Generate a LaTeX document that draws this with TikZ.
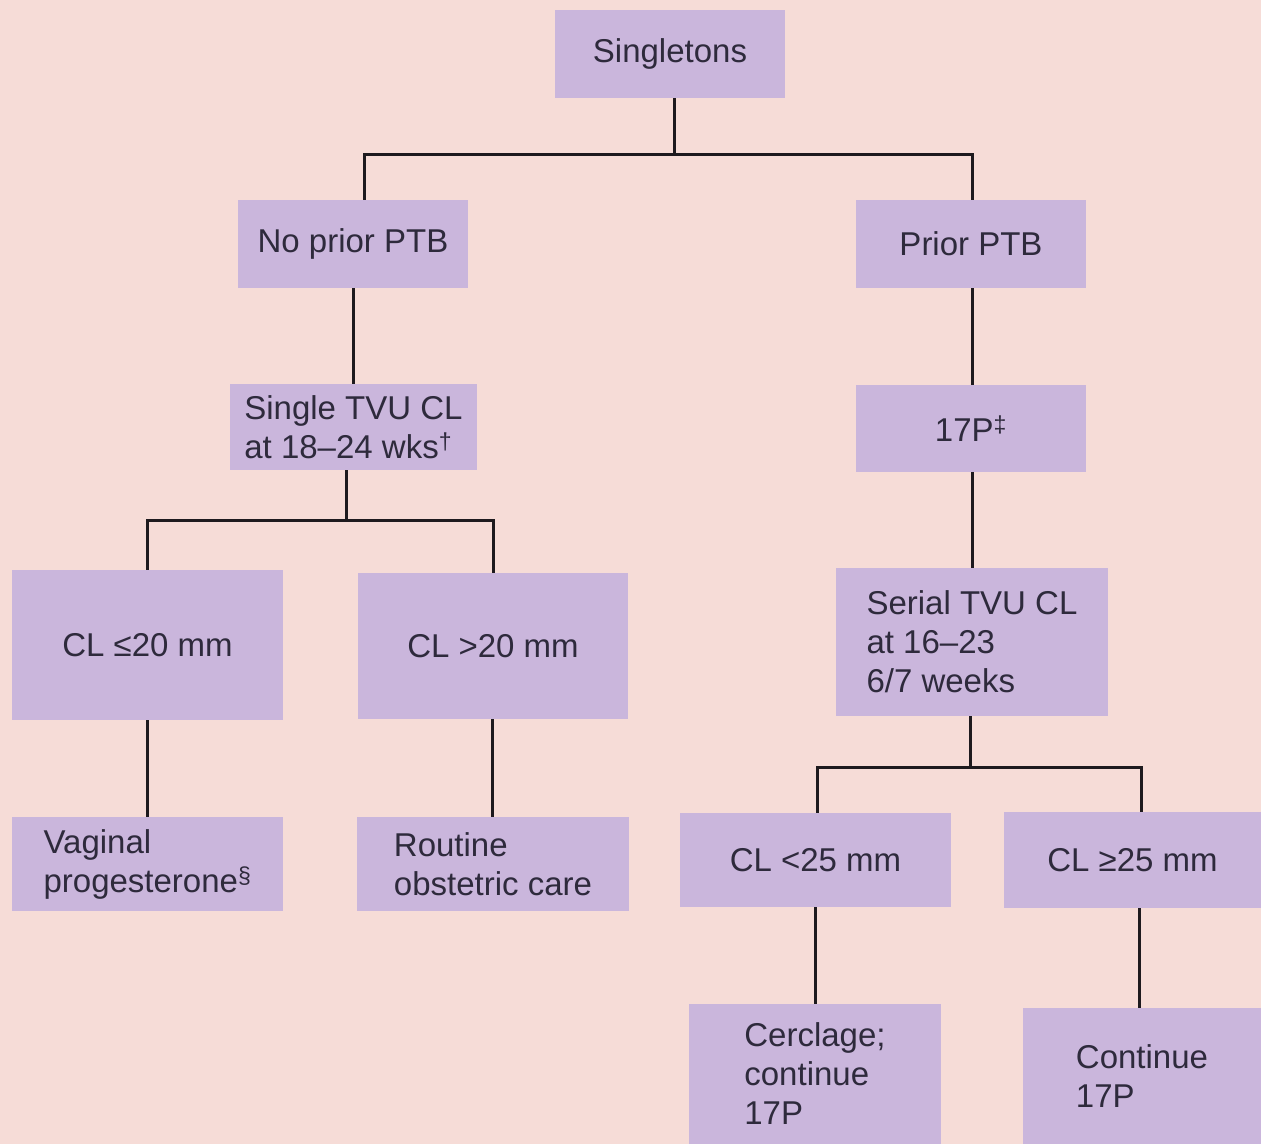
\documentclass[tikz,border=0pt]{standalone}
\usepackage{fontspec}
\setmainfont{Liberation Sans}
\definecolor{bg}{HTML}{F6DCD7}
\definecolor{boxc}{HTML}{CAB6DC}
\definecolor{ink}{HTML}{2E2A3C}
\definecolor{wire}{HTML}{1E1A1E}
\begin{document}
\begin{tikzpicture}[x=1pt,y=-1pt,
  box/.style={fill=boxc, draw=none, inner sep=0pt, align=left, text=ink,
    font=\fontsize{33}{39}\selectfont},
  wire/.style={draw=wire, line width=3pt}]
\useasboundingbox (0,0) rectangle (1261,1144);
\fill[bg] (0,0) rectangle (1261,1144);
% boxes
\node[box, minimum width=230pt, minimum height=88pt] (s) at (670,54) {Singletons};
\node[box, minimum width=230pt, minimum height=88pt] (np) at (353,244) {No prior PTB};
\node[box, minimum width=230pt, minimum height=88pt] (pp) at (971,244) {Prior PTB};
\node[box, minimum width=247pt, minimum height=86pt] (stvu) at (353.5,427) {Single TVU CL\\at 18–24 wks\textsuperscript{†}};
\node[box, minimum width=230pt, minimum height=87pt] (p17) at (971,428.5) {17P\textsuperscript{‡}};
\node[box, minimum width=271pt, minimum height=150pt] (le20) at (147.5,645) {CL ≤20 mm};
\node[box, minimum width=270pt, minimum height=146pt] (gt20) at (493,646) {CL >20 mm};
\node[box, minimum width=272pt, minimum height=148pt] (ser) at (972,642) {Serial TVU CL\\at 16–23\\6/7 weeks};
\node[box, minimum width=271pt, minimum height=94pt] (vag) at (147.5,864) {Vaginal\\progesterone\textsuperscript{§}};
\node[box, minimum width=272pt, minimum height=94pt] (rout) at (493,864) {Routine\\obstetric care};
\node[box, minimum width=271pt, minimum height=94pt] (lt25) at (815.5,860) {CL <25 mm};
\node[box, minimum width=257pt, minimum height=96pt] (ge25) at (1132.5,860) {CL ≥25 mm};
\node[box, minimum width=252pt, minimum height=140pt] (cer) at (815,1074) {Cerclage;\\continue\\17P};
\node[box, minimum width=238pt, minimum height=136pt] (cont) at (1142,1076) {Continue\\17P};
% junctions
\coordinate (j1) at (674,154);
\coordinate (j2) at (346,520);
\coordinate (j3) at (970,767);
% connectors
\draw[wire] ([xshift=4pt]s.south) -- (j1);
\draw[wire] ([xshift=11pt]np.north) |- (j1) -| ([xshift=1pt]pp.north);
\draw[wire] (np.south) -- (np.south |- stvu.north);
\draw[wire] ([xshift=-7.5pt]stvu.south) -- (j2);
\draw[wire] (le20.north) |- (j2) -| (gt20.north);
\draw[wire] (le20.south) -- (vag.north);
\draw[wire] ([xshift=-1pt]gt20.south) -- ([xshift=-1pt]rout.north);
\draw[wire] ([xshift=1pt]pp.south) -- ([xshift=1pt]p17.north);
\draw[wire] ([xshift=1pt]p17.south) -- ([xshift=1pt]p17.south |- ser.north);
\draw[wire] ([xshift=-2pt]ser.south) -- (j3);
\draw[wire] ([xshift=1.5pt]lt25.north) |- (j3) -| ([xshift=8.5pt]ge25.north);
\draw[wire] (cer.north |- lt25.south) -- (cer.north);
\draw[wire] ([xshift=6.5pt]ge25.south) -- ([xshift=6.5pt]ge25.south |- cont.north);
\end{tikzpicture}
\end{document}
